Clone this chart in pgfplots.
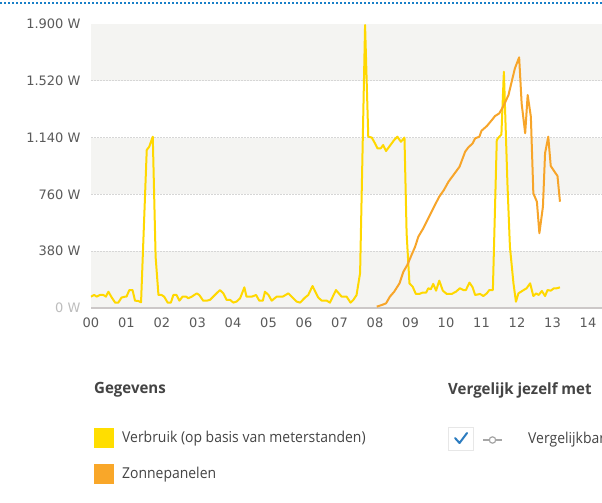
\documentclass[border=0pt]{standalone}
\usepackage{pgfplots}
\pgfplotsset{compat=1.18}
\usepackage{fontspec}
\setmainfont{Open Sans}
\newfontfamily\tickfont{DejaVu Sans}
\newfontfamily\legfont[FakeStretch=0.93]{Open Sans}
\newfontfamily\legbfont[FakeStretch=0.97]{Open Sans}
\definecolor{ylw}{HTML}{FFD800}
\definecolor{org}{HTML}{F7A52A}
\definecolor{legylw}{HTML}{FFDE00}
\definecolor{legorg}{HTML}{F9A729}
\definecolor{band}{HTML}{F4F4F2}
\definecolor{gridc}{HTML}{D6D6D6}
\definecolor{basec}{HTML}{CCC8C8}
\definecolor{tickc}{HTML}{5A5A5A}
\definecolor{zeroc}{HTML}{BDBDBD}
\definecolor{txtc}{HTML}{444444}
\definecolor{blu}{HTML}{1A80C8}
\definecolor{chk}{HTML}{2C7CC0}

\pgfplotstableread{
t v
0.00 76
0.09 87
0.16 76
0.25 87
0.35 87
0.42 76
0.49 109
0.58 72
0.68 36
0.77 36
0.86 70
0.96 76
1.00 76
1.08 120
1.17 120
1.24 49
1.33 47
1.41 38
1.57 1057
1.64 1079
1.74 1146
1.82 343
1.90 87
1.99 87
2.06 76
2.16 36
2.25 36
2.32 87
2.41 87
2.49 49
2.58 76
2.68 76
2.74 65
2.84 76
2.98 98
3.05 87
3.16 49
3.26 49
3.35 54
3.49 87
3.63 120
3.73 98
3.82 54
3.92 54
4.01 36
4.10 43
4.20 65
4.32 138
4.38 76
4.53 76
4.65 87
4.74 49
4.84 49
4.90 109
5.00 87
5.09 49
5.23 76
5.40 76
5.56 98
5.65 76
5.79 43
5.89 36
6.03 70
6.12 87
6.24 147
6.40 70
6.50 49
6.64 49
6.73 36
6.90 120
7.06 76
7.20 76
7.31 36
7.39 54
7.48 87
7.58 234
7.72 1893
7.81 1146
7.91 1140
8.00 1101
8.07 1068
8.16 1068
8.23 1090
8.31 1050
8.40 1079
8.54 1124
8.63 1146
8.73 1112
8.83 1140
8.89 500
8.97 165
9.06 143
9.15 94
9.25 94
9.34 103
9.44 103
9.50 132
9.57 125
9.64 161
9.72 116
9.81 183
9.91 116
10.02 94
10.16 94
10.28 109
10.39 132
10.49 120
10.56 120
10.66 170
10.75 138
10.82 87
10.96 94
11.05 80
11.15 98
11.22 120
11.32 120
11.43 1124
11.50 1146
11.56 1160
11.63 1581
11.73 834
11.80 410
11.90 165
11.97 42
12.04 98
12.16 116
12.27 132
12.37 165
12.46 80
12.54 98
12.61 87
12.70 114
12.79 80
12.86 120
12.95 116
13.04 132
13.12 132
13.21 138
}\verbruik

\pgfplotstableread{
t v
8.05 9
8.19 20
8.31 31
8.42 76
8.54 109
8.69 165
8.80 243
8.91 288
9.03 355
9.13 410
9.22 477
9.36 533
9.50 600
9.64 667
9.81 745
9.94 789
10.07 845
10.21 890
10.38 945
10.54 1046
10.63 1075
10.75 1101
10.82 1135
10.94 1146
11.00 1186
11.15 1217
11.29 1257
11.38 1284
11.50 1302
11.61 1347
11.76 1425
11.85 1514
11.94 1603
12.06 1677
12.13 1369
12.23 1169
12.30 1425
12.39 1280
12.46 767
12.56 711
12.63 500
12.73 678
12.79 1035
12.88 1146
12.95 950
13.04 918
13.14 883
13.21 711
}\zon

\begin{document}
\begin{tikzpicture}[x=1pt,y=1pt]
\path[use as bounding box, clip] (0,0) rectangle (602,503);
\fill[white] (0,0) rectangle (602,503);
% top dotted rule
\draw[blu, line width=2.2pt, dash pattern=on 2pt off 2pt] (0,500) -- (602,500);
\begin{axis}[
  at={(91pt,195pt)}, anchor=south west,
  scale only axis, width=511pt, height=284pt,
  xmin=0, xmax=14.394, ymin=0, ymax=1900,
  axis line style={draw=none},
  tick style={draw=none},
  xtick={0,1,...,14},
  xticklabels={00,01,02,03,04,05,06,07,08,09,10,11,12,13,14},
  ytick={380,760,1140,1520,1900},
  yticklabels={380 W,760 W,1.140 W,1.520 W,1.900 W},
  extra y ticks={0},
  extra y tick labels={0 W},
  extra y tick style={yticklabel style={text=zeroc}},
  ticklabel style={font=\tickfont\fontsize{13}{15}\selectfont, text=tickc},
  yticklabel style={anchor=east, xshift=-7pt},
  xticklabel style={anchor=north, yshift=-6.5pt},
  clip=false,
]
\fill[band] (axis cs:0,0) rectangle (axis cs:14.394,380);
\fill[band] (axis cs:0,760) rectangle (axis cs:14.394,1140);
\fill[band] (axis cs:0,1520) rectangle (axis cs:14.394,1900);
\draw[gridc, line width=0.8pt, dash pattern=on 1.5pt off 1.5pt] (axis cs:0,380) -- (axis cs:14.394,380);
\draw[gridc, line width=0.8pt, dash pattern=on 1.5pt off 1.5pt] (axis cs:0,760) -- (axis cs:14.394,760);
\draw[gridc, line width=0.8pt, dash pattern=on 1.5pt off 1.5pt] (axis cs:0,1140) -- (axis cs:14.394,1140);
\draw[gridc, line width=0.8pt, dash pattern=on 1.5pt off 1.5pt] (axis cs:0,1520) -- (axis cs:14.394,1520);
\draw[basec, line width=1.5pt] (axis cs:0,0) -- (axis cs:14.394,0);
\addplot[ylw, line width=2pt, line join=round, no marks] table[x=t,y=v] {\verbruik};
\addplot[org, line width=2pt, line join=round, no marks] table[x=t,y=v] {\zon};
\end{axis}
% legend area
\node[anchor=west, inner sep=0, text=txtc, font=\legbfont\fontsize{15.5}{17}\selectfont\bfseries] at (94,113) {Gegevens};
\node[anchor=west, inner sep=0, text=txtc, font=\legbfont\fontsize{15.5}{17}\selectfont\bfseries] at (448,113) {Vergelijk jezelf met};
\fill[legylw] (94,55) rectangle (114,75);
\fill[legorg] (94,19) rectangle (114,39);
\node[anchor=west, inner sep=0, text=txtc, font=\legfont\fontsize{15}{17}\selectfont] at (122,64) {Verbruik (op basis van meterstanden)};
\node[anchor=west, inner sep=0, text=txtc, font=\legfont\fontsize{15}{17}\selectfont] at (122,28) {Zonnepanelen};
\draw[gridc!60, fill=white, line width=0.8pt] (448,53) rectangle (473,76);
\draw[chk, line width=2pt, line cap=round, line join=round] (455,65) -- (459.5,60) -- (467,70);
\draw[gray!70, line width=1.5pt] (483,63) -- (502,63);
\draw[gray!70, fill=white, line width=1.2pt] (492.5,63) circle (3.2);
\node[anchor=west, inner sep=0, text=txtc, font=\legfont\fontsize{15}{17}\selectfont] at (528,63) {Vergelijkbare huishoudens};
\end{tikzpicture}
\end{document}
